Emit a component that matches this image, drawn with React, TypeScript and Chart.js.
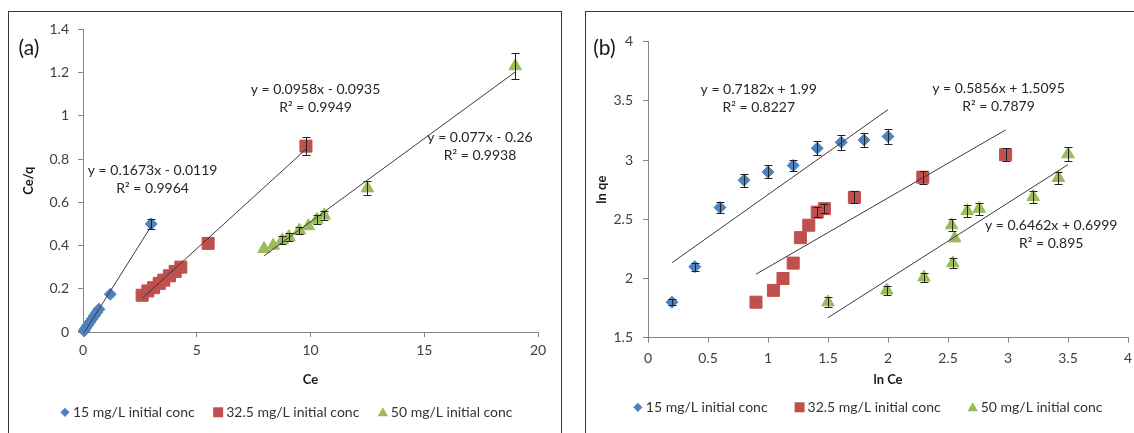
import React, { useEffect, useRef } from 'react';
import { Chart, registerables } from 'chart.js';

Chart.register(...registerables);

// ---------- shared ----------
const seriesLabels = ['15 mg/L initial conc', '32.5 mg/L initial conc', '50 mg/L initial conc'];
const seriesColors = ['#4F81BD', '#C0504D', '#9BBB59'];
const seriesStyles = ['rectRot', 'rect', 'triangle'];

// ---------- panel (a): Ce/q vs Ce ----------
const a15Ce = [0.05, 0.1, 0.2, 0.3, 0.4, 0.5, 0.6, 0.7, 1.2, 3.0];
const a15CeQ = [0.005, 0.015, 0.03, 0.045, 0.06, 0.075, 0.09, 0.105, 0.175, 0.5];
const a15Err = [0, 0, 0, 0, 0, 0, 0, 0, 0, 0.025];

const a32Ce = [2.6, 2.85, 3.1, 3.35, 3.55, 3.8, 4.05, 4.3, 5.5, 9.8];
const a32CeQ = [0.17, 0.19, 0.205, 0.225, 0.24, 0.26, 0.28, 0.3, 0.41, 0.86];
const a32Err = [0, 0, 0, 0, 0, 0, 0, 0, 0, 0.042];

const a50Ce = [7.96, 8.36, 8.76, 9.05, 9.51, 9.91, 10.28, 10.6, 12.5, 19.0];
const a50CeQ = [0.385, 0.4, 0.425, 0.44, 0.47, 0.49, 0.52, 0.54, 0.665, 1.23];
const a50Err = [0, 0, 0.02, 0.02, 0.015, 0, 0.02, 0.02, 0.033, 0.06];

const aSlopes = [0.1673, 0.0958, 0.077];
const aIntercepts = [-0.0119, -0.0935, -0.26];
const aR2 = [0.9964, 0.9949, 0.9938];

const aXTicks = { min: 0, max: 20, step: 5 };
const aYTicks = { min: 0, max: 1.4, step: 0.2 };

// ---------- panel (b): ln qe vs ln Ce ----------
const b15LnCe = [0.2, 0.39, 0.6, 0.8, 1.0, 1.21, 1.41, 1.61, 1.8, 2.0];
const b15LnQe = [1.8, 2.1, 2.6, 2.83, 2.9, 2.955, 3.1, 3.15, 3.17, 3.2];
const b15Err = [0.025, 0.035, 0.045, 0.055, 0.055, 0.05, 0.06, 0.065, 0.06, 0.06];

const b32LnCe = [0.9, 1.045, 1.125, 1.21, 1.27, 1.34, 1.41, 1.47, 1.72, 2.29, 2.98];
const b32LnQe = [1.8, 1.9, 2.0, 2.13, 2.345, 2.45, 2.56, 2.59, 2.685, 2.855, 3.045];
const b32Err = [0, 0, 0, 0, 0, 0, 0.04, 0.04, 0.05, 0.055, 0.055];

const b50LnCe = [1.5, 1.99, 2.3, 2.54, 2.555, 2.53, 2.66, 2.76, 3.21, 3.42, 3.5];
const b50LnQe = [1.8, 1.9, 2.01, 2.13, 2.34, 2.45, 2.57, 2.59, 2.69, 2.85, 3.05];
const b50Err = [0.04, 0.04, 0.04, 0.045, 0, 0.05, 0.05, 0.05, 0.05, 0.05, 0.06];

const bSlopes = [0.7182, 0.5856, 0.6462];
const bIntercepts = [1.99, 1.5095, 0.6999];
const bR2 = [0.8227, 0.7879, 0.895];

const bXTicks = { min: 0, max: 4, step: 0.5 };
const bYTicks = { min: 1.5, max: 4, step: 0.5 };

// ---------- helpers ----------
const FONT = 'Lato, "Open Sans", sans-serif';

function eqText(slope: number, intercept: number) {
  const sign = intercept < 0 ? '-' : '+';
  return `y = ${slope}x ${sign} ${Math.abs(intercept)}`;
}

const fmtTick = (v: any) => String(Math.round(Number(v) * 100) / 100);

function drawShape(ctx: CanvasRenderingContext2D, style: string, x: number, y: number, r: number, color: string) {
  ctx.fillStyle = color;
  ctx.beginPath();
  if (style === 'rectRot') {
    ctx.moveTo(x, y - r);
    ctx.lineTo(x + r, y);
    ctx.lineTo(x, y + r);
    ctx.lineTo(x - r, y);
  } else if (style === 'rect') {
    ctx.rect(x - r, y - r, 2 * r, 2 * r);
  } else {
    ctx.moveTo(x, y - r);
    ctx.lineTo(x + 0.866 * r, y + 0.5 * r);
    ctx.lineTo(x - 0.866 * r, y + 0.5 * r);
  }
  ctx.closePath();
  ctx.fill();
}

function makeExtras(cfg: any) {
  return {
    id: 'extras' + cfg.letter,
    afterDatasetsDraw(chart: any) {
      const { ctx } = chart;
      const xs = chart.scales.x;
      const ys = chart.scales.y;
      ctx.save();
      // error bars
      ctx.strokeStyle = '#222';
      ctx.lineWidth = 1;
      chart.data.datasets.forEach((ds: any) => {
        if (!ds.errorBars) return;
        ds.data.forEach((p: any, i: number) => {
          const e = ds.errorBars[i];
          if (!e) return;
          const px = Math.round(xs.getPixelForValue(p.x)) + 0.5;
          const t = Math.round(ys.getPixelForValue(p.y + e)) + 0.5;
          const b = Math.round(ys.getPixelForValue(p.y - e)) + 0.5;
          ctx.beginPath();
          ctx.moveTo(px, t);
          ctx.lineTo(px, b);
          ctx.moveTo(px - 4, t);
          ctx.lineTo(px + 4, t);
          ctx.moveTo(px - 4, b);
          ctx.lineTo(px + 4, b);
          ctx.stroke();
        });
      });
      // trendline equations
      ctx.fillStyle = '#262626';
      ctx.font = `14px ${FONT}`;
      ctx.textAlign = 'center';
      ctx.textBaseline = 'middle';
      cfg.labels.forEach((l: any, i: number) => {
        const px = xs.getPixelForValue(l.x);
        const py = ys.getPixelForValue(l.y);
        ctx.fillText(eqText(cfg.slopes[i], cfg.intercepts[i]), px, py);
        ctx.fillText(`R² = ${cfg.r2[i]}`, px, py + 17.8);
      });
      // panel letter
      ctx.font = `21px ${FONT}`;
      ctx.fillStyle = '#1a1a1a';
      ctx.fillText(`(${cfg.letter})`, cfg.letterPos[0], cfg.letterPos[1]);
      // legend
      ctx.font = `14px ${FONT}`;
      ctx.textAlign = 'left';
      const items = chart.data.datasets.filter((d: any) => d.legendStyle);
      const textOff = 8;
      const widths = items.map((d: any) => ctx.measureText(d.label).width);
      let total = 0;
      widths.forEach((w: number, i: number) => {
        total += textOff + w + (i < widths.length - 1 ? cfg.legendGap : 0);
      });
      total += 4.5;
      let x = cfg.legendCx - total / 2 + 4.5;
      const y = cfg.legendY;
      items.forEach((d: any, i: number) => {
        const r = d.legendStyle === 'rectRot' ? 4.6 : d.legendStyle === 'rect' ? 5 : 6;
        drawShape(ctx, d.legendStyle, x, d.legendStyle === 'triangle' ? y + 1 : y, r, d.backgroundColor);
        ctx.fillStyle = '#333';
        ctx.fillText(d.label, x + textOff, y + 0.5);
        x += textOff + widths[i] + cfg.legendGap;
      });
      ctx.restore();
    },
  };
}

function buildConfig(cfg: any) {
  const trendSets = cfg.xs.map((xv: number[], i: number) => {
    const x0 = Math.min(...xv);
    const x1 = Math.max(...xv);
    return {
      label: 'trend' + i,
      data: [
        { x: x0, y: cfg.slopes[i] * x0 + cfg.intercepts[i] },
        { x: x1, y: cfg.slopes[i] * x1 + cfg.intercepts[i] },
      ],
      showLine: true,
      borderColor: '#3a3a3a',
      borderWidth: 1,
      pointRadius: 0,
      clip: false,
    };
  });
  const markerSets = cfg.xs.map((xv: number[], i: number) => ({
    label: seriesLabels[i],
    data: xv.map((v, j) => ({ x: v, y: cfg.ys[i][j] })),
    errorBars: cfg.errs[i],
    legendStyle: seriesStyles[i],
    pointStyle: seriesStyles[i],
    pointRadius: [6, 8.5, 7.3][i],
    backgroundColor: seriesColors[i],
    borderColor: seriesColors[i],
    pointBorderWidth: 1,
    showLine: false,
    clip: false,
  }));
  const tickFont = { family: FONT, size: 14 };
  const titleFont = { family: FONT, size: 13, weight: 'bold' };
  const L = cfg.layout;
  return {
    type: 'scatter',
    data: { datasets: [...trendSets, ...markerSets] },
    options: {
      responsive: false,
      animation: false,
      events: [],
      layout: { padding: { left: 0, top: L.top, right: L.right, bottom: L.bottom } },
      plugins: { legend: { display: false }, tooltip: { enabled: false } },
      scales: {
        x: {
          type: 'linear',
          min: cfg.xTicks.min,
          max: cfg.xTicks.max,
          ticks: { stepSize: cfg.xTicks.step, font: tickFont, color: '#404040', padding: L.xTickPad, maxRotation: 0, callback: fmtTick },
          grid: { drawOnChartArea: false, drawTicks: true, tickLength: 5, color: '#868686' },
          border: { display: true, color: '#868686', width: 1 },
          title: { display: true, text: cfg.xTitle, font: titleFont, color: '#1a1a1a', padding: { top: 0, bottom: L.xTitlePad } },
          afterFit: (s: any) => { s.height = L.xHeight; },
        },
        y: {
          type: 'linear',
          min: cfg.yTicks.min,
          max: cfg.yTicks.max,
          ticks: { stepSize: cfg.yTicks.step, font: tickFont, color: '#404040', padding: L.yTickPad, callback: fmtTick },
          grid: { drawOnChartArea: false, drawTicks: true, tickLength: 5, color: '#868686' },
          border: { display: true, color: '#868686', width: 1 },
          title: { display: true, text: cfg.yTitle, font: titleFont, color: '#1a1a1a', padding: { top: L.yTitlePad, bottom: 0 } },
          afterFit: (s: any) => { s.width = L.yWidth; },
        },
      },
    },
    plugins: [makeExtras(cfg)],
  };
}

const panelA = {
  letter: 'a',
  xs: [a15Ce, a32Ce, a50Ce],
  ys: [a15CeQ, a32CeQ, a50CeQ],
  errs: [a15Err, a32Err, a50Err],
  slopes: aSlopes,
  intercepts: aIntercepts,
  r2: aR2,
  xTicks: aXTicks,
  yTicks: aYTicks,
  xTitle: 'Ce',
  yTitle: 'Ce/q',
  labels: [
    { x: 3.06, y: 0.746 },
    { x: 10.22, y: 1.122 },
    { x: 17.45, y: 0.9 },
  ],
  letterPos: [20, 36],
  legendCx: 277.5,
  legendY: 400.3,
  legendGap: 23.5,
  layout: { top: 16, right: 23, bottom: 58, xHeight: 60, xTickPad: 4.6, xTitlePad: 4.4, yWidth: 74, yTickPad: 9, yTitlePad: 12.2 },
};

const panelB = {
  letter: 'b',
  xs: [b15LnCe, b32LnCe, b50LnCe],
  ys: [b15LnQe, b32LnQe, b50LnQe],
  errs: [b15Err, b32Err, b50Err],
  slopes: bSlopes,
  intercepts: bIntercepts,
  r2: bR2,
  xTicks: bXTicks,
  yTicks: bYTicks,
  xTitle: 'ln Ce',
  yTitle: 'ln qe',
  labels: [
    { x: 0.923, y: 3.598 },
    { x: 2.921, y: 3.603 },
    { x: 3.36, y: 2.446 },
  ],
  letterPos: [18.4, 36.3],
  legendCx: 281.9,
  legendY: 395.3,
  legendGap: 32,
  layout: { top: 29.7, right: 16, bottom: 60.3, xHeight: 52, xTickPad: 7.2, xTitlePad: 2.1, yWidth: 62, yTickPad: 10, yTitlePad: 8.2 },
};

function Panel({ cfg, left, top, width, height }: any) {
  const ref = useRef<HTMLCanvasElement>(null);
  useEffect(() => {
    const chart = new Chart(ref.current as HTMLCanvasElement, buildConfig(cfg) as any);
    return () => chart.destroy();
  }, [cfg]);
  return (
    <div
      style={{
        position: 'absolute',
        left,
        top,
        width,
        height,
        border: '1px solid #3a3a3a',
        boxSizing: 'border-box',
        background: '#fff',
      }}
    >
      <canvas ref={ref} width={width - 2} height={height - 2} style={{ display: 'block' }} />
    </div>
  );
}

export default function App() {
  return (
    <div
      style={{
        position: 'fixed',
        left: 0,
        top: 0,
        width: 1134,
        height: 433,
        overflow: 'hidden',
        background: '#fff',
      }}
    >
      <Panel cfg={panelA} left={8} top={11} width={554} height={440} />
      <Panel cfg={panelB} left={585} top={11} width={560} height={440} />
    </div>
  );
}
